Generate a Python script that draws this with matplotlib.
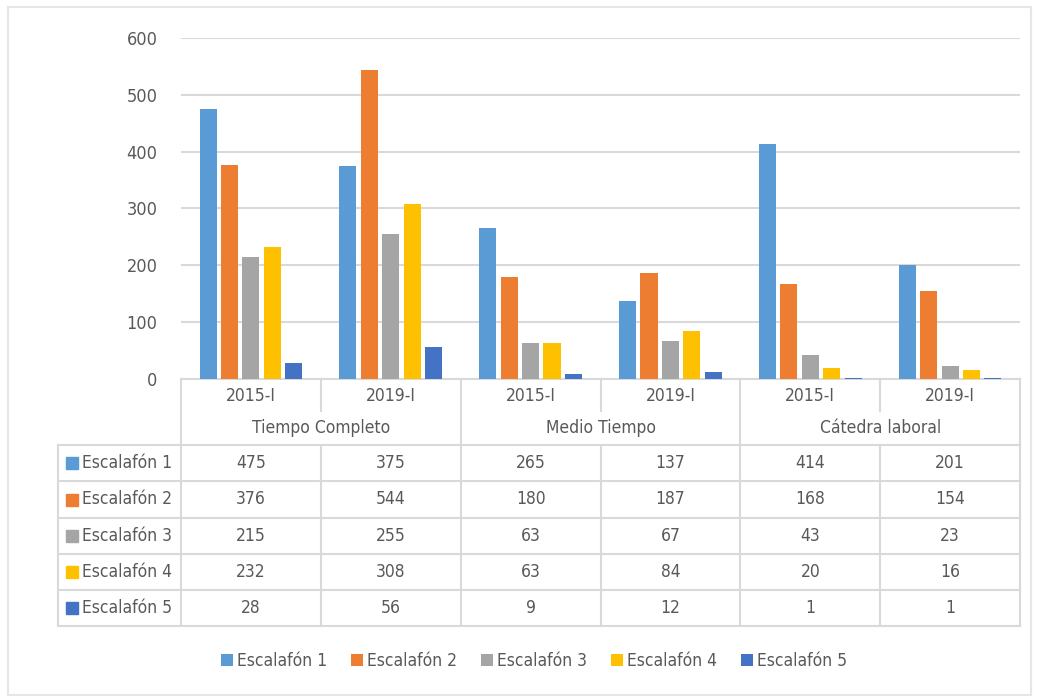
import numpy as np
import matplotlib
matplotlib.use('Agg')
import matplotlib.pyplot as plt
from matplotlib.patches import Rectangle

plt.rcParams['font.family'] = ['DejaVu Sans']
plt.rcParams['font.stretch'] = 'condensed'

# data
groups = ['Tiempo Completo', 'Medio Tiempo', 'Cátedra laboral']
periods = ['2015-I', '2019-I']
series = ['Escalafón 1', 'Escalafón 2', 'Escalafón 3', 'Escalafón 4', 'Escalafón 5']
esc1 = [475, 375, 265, 137, 414, 201]
esc2 = [376, 544, 180, 187, 168, 154]
esc3 = [215, 255, 63, 67, 43, 23]
esc4 = [232, 308, 63, 84, 20, 16]
esc5 = [28, 56, 9, 12, 1, 1]
values = [esc1, esc2, esc3, esc4, esc5]
colors = ['#5B9BD5', '#ED7D31', '#A5A5A5', '#FFC000', '#4472C4']
yticks = [0, 100, 200, 300, 400, 500, 600]

W, H = 1038, 696
txt = '#595959'
grid = '#d9d9d9'
fs = 12.5
fig = plt.figure(figsize=(W / 100, H / 100), dpi=100)

# overlay axes in pixel coords for table and frame
ov = fig.add_axes([0, 0, 1, 1])
ov.set_xlim(0, W)
ov.set_ylim(H, 0)
ov.axis('off')

# main bar chart
x0, x1, ytop, ybot = 181, 1020, 38, 379
ax = fig.add_axes([x0 / W, (H - ybot) / H, (x1 - x0) / W, (ybot - ytop) / H])
ncat = len(esc1)
x = np.arange(ncat)
bw, step = 0.122, 0.153
for i, (vals, c) in enumerate(zip(values, colors)):
    ax.bar(x + (i - 2) * step, vals, width=bw, color=c, zorder=3, label=series[i])
ax.set_xlim(-0.5, ncat - 0.5)
ax.set_ylim(0, 600)
ax.set_yticks(yticks)
ax.set_xticks([])
ax.tick_params(axis='y', length=0, pad=17, labelsize=13, labelcolor=txt)
ax.yaxis.grid(True, color=grid, lw=1.5, zorder=0)
for s in ['top', 'right', 'left']:
    ax.spines[s].set_visible(False)
ax.spines['bottom'].set_color(grid)
ax.spines['bottom'].set_linewidth(1.5)
ax.patch.set_alpha(0)

# table lines
lc = '#d9d9d9'
colw = (x1 - x0) / ncat
colx = [x0 + k * colw for k in range(ncat + 1)]
lab_x = 58
row_y = [445, 481, 518, 554, 590, 626]
hdr1, hdr2 = 379, 411
for k, cx in enumerate(colx):
    if k % 2 == 0:
        ov.plot([cx, cx], [hdr1, row_y[-1]], color=lc, lw=1.5)
    else:
        ov.plot([cx, cx], [hdr1, hdr2], color=lc, lw=1.5)
        ov.plot([cx, cx], [row_y[0], row_y[-1]], color=lc, lw=1.5)
ov.plot([lab_x, lab_x], [row_y[0], row_y[-1]], color=lc, lw=1.5)
for ry in row_y:
    ov.plot([lab_x, x1], [ry, ry], color=lc, lw=1.5)

# header texts
for k in range(ncat):
    cx = colx[k] + colw / 2
    ov.text(cx, (hdr1 + hdr2) / 2 + 1, periods[k % 2], ha='center', va='center',
            fontsize=fs, color=txt)
for g, name in enumerate(groups):
    cx = colx[2 * g] + colw
    ov.text(cx, (hdr2 + row_y[0]) / 2, name, ha='center', va='center',
            fontsize=fs, color=txt)

# data rows
for r, (vals, c) in enumerate(zip(values, colors)):
    cy = (row_y[r] + row_y[r + 1]) / 2
    ov.add_patch(Rectangle((66, cy - 6), 12, 12, color=c))
    ov.text(82, cy, series[r], ha='left', va='center', fontsize=fs, color=txt)
    for k, v in enumerate(vals):
        ov.text(colx[k] + colw / 2, cy, str(v), ha='center', va='center',
                fontsize=fs, color=txt)

# legend
leg = ax.legend(loc='center', ncol=5, frameon=False, fontsize=fs,
                handlelength=0.7, handleheight=0.7, handletextpad=0.2,
                columnspacing=1.4, labelcolor=txt)
leg.set_bbox_to_anchor((534, 661), transform=ov.transData)

# outer frame
ov.add_patch(Rectangle((8, 7), 1023, 688, fill=False, edgecolor='#e6e6e6', lw=1.5))

fig.savefig('out.png', dpi=100, facecolor='white')
